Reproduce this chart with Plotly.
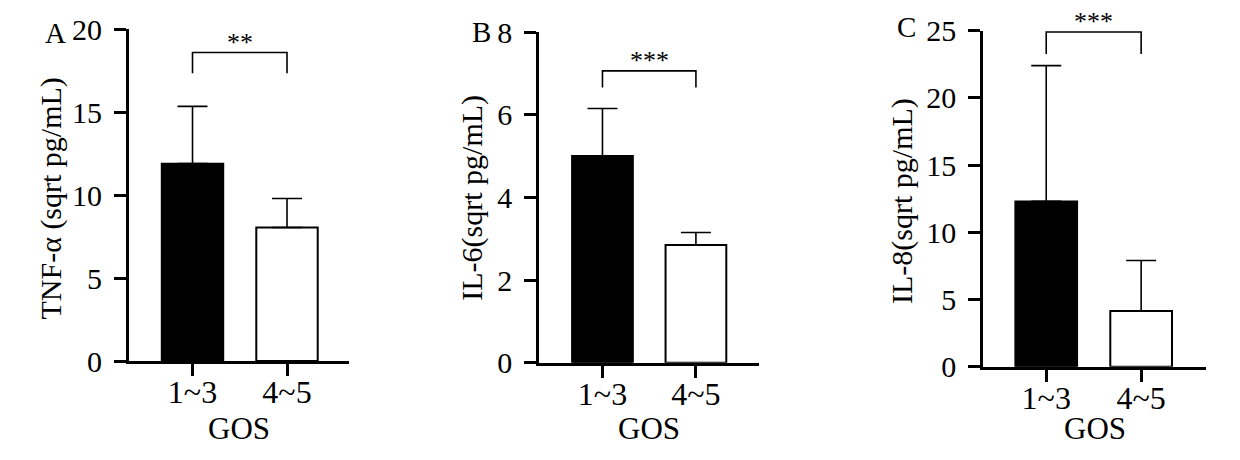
import plotly.graph_objects as go

# ---- data ----
categories = ["1~3", "4~5"]
tnf_mean = [11.9, 8.05]
tnf_err = [3.45, 1.75]
il6_mean = [5.0, 2.85]
il6_err = [1.15, 0.3]
il8_mean = [12.3, 4.15]
il8_err = [10.1, 3.75]

panel_letters = ["A", "B", "C"]
y_titles = ["TNF-α (sqrt pg/mL)", "IL-6(sqrt pg/mL)", "IL-8(sqrt pg/mL)"]
y_ticks = [[0, 5, 10, 15, 20], [0, 2, 4, 6, 8], [0, 5, 10, 15, 20, 25]]
y_max = [20, 8, 25]
stars = ["**", "***", "***"]
bracket_top = [18.6, 7.06, 24.9]
bracket_leg = [17.35, 6.66, 23.27]

OFF = 8  # page body margin
W, H = 1240 - OFF, 460 - OFF
FONT = "Liberation Serif"


def px(x):
    return (x - OFF) / W


def py(y):
    return 1 - (y - OFF) / H


# pixel layout per panel (window coords): (x_left, x_right, y_zero, y_top)
panels_px = [(129, 349, 361, 29.3), (539.3, 759, 362.7, 32), (983.3, 1205.7, 366.7, 30.7)]
x_ranges = [[-0.672, 1.656], [-0.676, 1.675], [-0.663, 1.68]]
ytitle_pos = [(50, 198.5), (471.7, 198), (902, 201)]
letter_pos = [(55, 32.5), (481, 31.5), (906, 26.7)]
gos_y = 428

means = [tnf_mean, il6_mean, il8_mean]
errs = [tnf_err, il6_err, il8_err]
xpos = list(range(len(categories)))

fig = go.Figure()
annotations = []
shapes = []
layout_axes = {}

for i in range(3):
    sfx = "" if i == 0 else str(i + 1)
    xa, ya = "x" + sfx, "y" + sfx
    fig.add_trace(go.Bar(
        x=xpos, y=means[i], xaxis=xa, yaxis=ya, width=0.65,
        marker=dict(color=["black", "white"], line=dict(color="black", width=2)),
        error_y=dict(type="data", symmetric=False, array=errs[i], arrayminus=[0, 0],
                     color="black", thickness=1.6, width=15),
        showlegend=False,
    ))
    xl, xr, y0, yt = panels_px[i]
    layout_axes["xaxis" + sfx] = dict(
        domain=[px(xl), px(xr)], anchor=ya, range=x_ranges[i], automargin=False,
        tickmode="array", tickvals=xpos, ticktext=categories,
        showline=True, linecolor="black", linewidth=3, ticks="outside", ticklen=12,
        tickwidth=3, tickcolor="black", showgrid=False, zeroline=False,
        ticklabelstandoff=-11, layer="above traces",
        tickfont=dict(family=FONT, size=32, color="black"),
    )
    layout_axes["yaxis" + sfx] = dict(
        domain=[py(y0), py(yt)], anchor=xa, range=[0, y_max[i]], automargin=False,
        tickmode="array", tickvals=y_ticks[i], showline=True, linecolor="black", linewidth=3,
        ticks="outside", ticklen=12, tickwidth=3, tickcolor="black",
        showgrid=False, zeroline=False, ticklabelstandoff=6,
        tickfont=dict(family=FONT, size=30, color="black"),
    )
    tx, ty = ytitle_pos[i]
    annotations.append(dict(text=y_titles[i], x=px(tx), y=py(ty), xref="paper", yref="paper",
                            textangle=-90, showarrow=False, xanchor="center", yanchor="middle",
                            font=dict(family=FONT, size=30, color="black")))
    lx, ly = letter_pos[i]
    annotations.append(dict(text=panel_letters[i], x=px(lx), y=py(ly), xref="paper", yref="paper",
                            showarrow=False, xanchor="center", yanchor="middle",
                            font=dict(family=FONT, size=29, color="black")))
    annotations.append(dict(text="GOS", x=px((xl + xr) / 2), y=py(gos_y), xref="paper", yref="paper",
                            showarrow=False, xanchor="center", yanchor="middle",
                            font=dict(family=FONT, size=31, color="black")))
    annotations.append(dict(text=stars[i], x=0.5, y=bracket_top[i], xref=xa, yref=ya,
                            showarrow=False, xanchor="center", yanchor="bottom", yshift=-6,
                            font=dict(family=FONT, size=26, color="black")))
    shapes.append(dict(type="path", xref=xa, yref=ya,
                       path=f"M 0,{bracket_leg[i]} L 0,{bracket_top[i]} L 1,{bracket_top[i]} L 1,{bracket_leg[i]}",
                       line=dict(color="black", width=1.6)))

fig.update_layout(
    width=W, height=H, margin=dict(l=0, r=0, t=0, b=0, autoexpand=False),
    paper_bgcolor="white", plot_bgcolor="white",
    annotations=annotations, shapes=shapes, **layout_axes,
)

fig.write_html("out.html")
